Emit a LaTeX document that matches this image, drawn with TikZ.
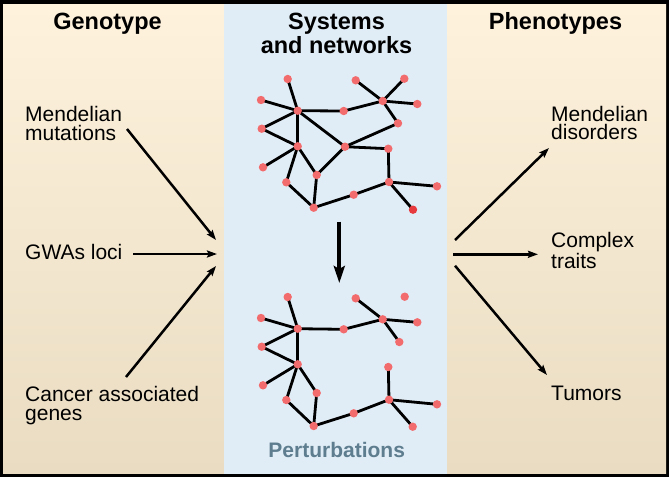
\documentclass[tikz,border=0pt]{standalone}
\usepackage{fontspec}
\setmainfont{Liberation Sans}
\usetikzlibrary{arrows.meta}
\definecolor{bgtop}{HTML}{FEF2DD}
\definecolor{bgbot}{HTML}{E9DCC2}
\definecolor{panelblue}{HTML}{E1EDF6}
\definecolor{nodered}{HTML}{F26B6D}
\definecolor{darkred}{HTML}{E63A3E}
\definecolor{perturb}{HTML}{5E7D8F}
\pgfdeclarelayer{back}
\pgfdeclarelayer{edges}
\pgfsetlayers{back,edges,main}
\tikzset{
  dot/.style={circle, fill=nodered, inner sep=0pt, minimum size=8.4pt},
  darkdot/.style={dot, fill=darkred},
  link/.style={line width=2.8pt, black},
  heading/.style={font=\fontsize{23.5}{24}\selectfont\bfseries, align=center, inner sep=0pt},
  label/.style={font=\fontsize{21}{18.5}\selectfont, align=left, inner sep=0pt},
  flow/.style={line width=2.5pt, -{Stealth[length=10pt,width=7pt,inset=1.5pt]}},
  bigflow/.style={line width=4.2pt, -{Stealth[length=17pt,width=11pt,inset=3pt]}},
}
\begin{document}
\begin{tikzpicture}[x=1pt,y=-1pt]
\useasboundingbox (0,0) rectangle (669,477);
\begin{pgfonlayer}{back}
\fill[black] (0,0) rectangle (669,477);
\shade[top color=bgtop, bottom color=bgbot] (3,4) rectangle (666,473.5);
\fill[panelblue] (224,4) rectangle (447,473.5);
\end{pgfonlayer}

% headings (base = baseline of last line)
\node[heading, anchor=base] (geno) at (107.5,29.3) {Genotype};
\node[heading, anchor=base] (sys) at (336.5,53.3) {Systems\\and networks};
\node[heading, anchor=base] (pheno) at (555.5,29.3) {Phenotypes};
\node[heading, anchor=base, text=perturb, font=\fontsize{21}{24}\selectfont\bfseries] (pert) at (336.7,457.7) {Perturbations};

% left labels
\node[label, anchor=base west] (mm) at (25,140) {Mendelian\\mutations};
\node[label, anchor=base west] (gw) at (25,259) {GWAs loci};
\node[label, anchor=base west] (ca) at (25,420) {Cancer associated\\genes};
% right labels
\node[label, anchor=base west] (md) at (551,139.5) {Mendelian\\disorders};
\node[label, anchor=base west] (ct) at (551,268) {Complex\\traits};
\node[label, anchor=base west] (tu) at (551,400) {Tumors};

% arrow end points
\coordinate (l1s) at (127,129);
\coordinate (l1e) at (216,240);
\coordinate (l2s) at (133,254);
\coordinate (l2e) at (217,254);
\coordinate (l3s) at (126,377);
\coordinate (l3e) at (216,266);
\coordinate (r1s) at (455,240);
\coordinate (r1e) at (549,148);
\coordinate (r2s) at (453,254.3);
\coordinate (r2e) at (538,254.3);
\coordinate (r3s) at (455,265.7);
\coordinate (r3e) at (547,375);
\coordinate (ds) at (339.3,221.5);
\coordinate (de) at (339.3,283);

\draw[flow] (l1s) -- (l1e);
\draw[flow] (l2s) -- (l2e);
\draw[flow] (l3s) -- (l3e);
\draw[flow] (r1s) -- (r1e);
\draw[flow] (r2s) -- (r2e);
\draw[flow] (r3s) -- (r3e);
\draw[bigflow] (ds) -- (de);

% top network
\node[dot] (tA) at (287.7,79) {};
\node[dot] (tB) at (261,100) {};
\node[dot] (tC) at (297.7,110.7) {};
\node[dot] (tD) at (343.7,111) {};
\node[dot] (tE) at (355.7,80.3) {};
\node[dot] (tF) at (404.3,78.7) {};
\node[dot] (tG) at (382.7,101) {};
\node[dot] (tH) at (417.3,104) {};
\node[dot] (tI) at (398,123.3) {};
\node[dot] (tJ) at (261.7,128.7) {};
\node[dot] (tK) at (297.7,146.3) {};
\node[dot] (tL) at (345,146.7) {};
\node[dot] (tM) at (388.3,148.7) {};
\node[dot] (tN) at (263,167.3) {};
\node[dot] (tO) at (316.7,175) {};
\node[dot] (tP) at (286.3,182.3) {};
\node[dot] (tQ) at (389,182) {};
\node[dot] (tR) at (437,186.3) {};
\node[dot] (tS) at (353.7,194.7) {};
\node[dot] (tT) at (313.7,207.7) {};
\node[darkdot] (tU) at (413,209.7) {};

\begin{pgfonlayer}{edges}
\foreach \a/\b in {A/C,B/C,C/D,D/G,E/G,F/G,H/G,G/I,I/L,C/L,C/J,J/K,C/K,K/N,K/O,K/P,L/O,L/M,M/Q,Q/R,Q/U,Q/S,S/T,T/O,T/P}
  \draw[link] (t\a.center) -- (t\b.center);
\end{pgfonlayer}

% bottom network
\node[dot] (bA) at (287.7,297) {};
\node[dot] (bB) at (261,318) {};
\node[dot] (bC) at (297.7,328.7) {};
\node[dot] (bD) at (343.7,329.3) {};
\node[dot] (bE) at (355.7,298.3) {};
\node[dot] (bF) at (404.7,296.7) {};
\node[dot] (bG) at (382.7,319.3) {};
\node[dot] (bH) at (417.3,322.3) {};
\node[dot] (bI) at (399.3,342) {};
\node[dot] (bJ) at (261.7,346.7) {};
\node[dot] (bK) at (297.7,364.3) {};
\node[dot] (bM) at (388.3,367) {};
\node[dot] (bN) at (263,385.3) {};
\node[dot] (bO) at (316.7,393) {};
\node[dot] (bP) at (286.3,400) {};
\node[dot] (bQ) at (389,399.7) {};
\node[dot] (bR) at (437,404.3) {};
\node[dot] (bS) at (353.7,413.3) {};
\node[dot] (bT) at (313.7,426) {};
\node[dot] (bU) at (412.7,426.7) {};

\begin{pgfonlayer}{edges}
\foreach \a/\b in {A/C,B/C,C/D,D/G,E/G,G/H,G/I,C/J,J/K,C/K,K/N,K/O,K/P,O/T,P/T,T/S,S/Q,Q/R,Q/U,Q/M}
  \draw[link] (b\a.center) -- (b\b.center);
\end{pgfonlayer}
\end{tikzpicture}
\end{document}
